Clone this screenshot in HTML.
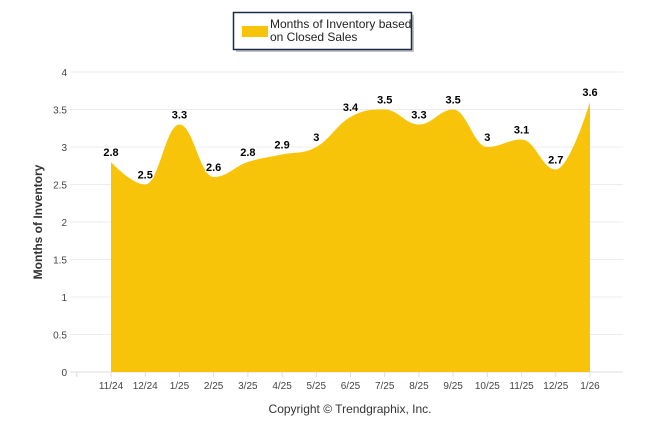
<!DOCTYPE html>
<html><head><meta charset="utf-8"><style>
body{margin:0;background:#fff;}
svg{display:block;font-family:"Liberation Sans",Arial,sans-serif;}
</style></head><body>
<svg width="646" height="434">
<g id="grid"></g>
<g id="area"></g>
<g id="xaxis"></g>
<g id="yaxis"></g>
<g id="labels"></g>
<text x="42" y="222" transform="rotate(-90 42 222)" text-anchor="middle" font-size="12" font-weight="bold" fill="#333">Months of Inventory</text>
<text x="350" y="413" text-anchor="middle" font-size="12" fill="#333">Copyright © Trendgraphix, Inc.</text>
<g>
<rect x="236" y="15" width="178" height="37" fill="#888" opacity="0.5"/>
<rect x="233.5" y="12.5" width="178" height="37" fill="#fff" stroke="#1c2a4a" stroke-width="1.5"/>
<rect x="242" y="26" width="26" height="11" fill="#f8c40a"/>
<text x="270" y="28" font-size="12" fill="#222">Months of Inventory based</text>
<text x="270" y="41" font-size="12" fill="#222">on Closed Sales</text>
</g>
</svg>
<script>
const categories=["11/24","12/24","1/25","2/25","3/25","4/25","5/25","6/25","7/25","8/25","9/25","10/25","11/25","12/25","1/26"];
const values=[2.8,2.5,3.3,2.6,2.8,2.9,3,3.4,3.5,3.3,3.5,3,3.1,2.7,3.6];
const valueLabels=["2.8","2.5","3.3","2.6","2.8","2.9","3","3.4","3.5","3.3","3.5","3","3.1","2.7","3.6"];
const yTicks=[0,0.5,1,1.5,2,2.5,3,3.5,4];
const yTickLabels=["0","0.5","1","1.5","2","2.5","3","3.5","4"];
const NS="http://www.w3.org/2000/svg";
const x0=111,dx=34.214,yb=372,yt=72,ymax=4;
const X=i=>x0+i*dx;
const Y=v=>yb-(v/ymax)*(yb-yt);
function mk(t,a,p){const e=document.createElementNS(NS,t);for(const k in a)e.setAttribute(k,a[k]);p.appendChild(e);return e;}
const grid=document.getElementById('grid'),yax=document.getElementById('yaxis'),xax=document.getElementById('xaxis');
yTicks.forEach((t,i)=>{
 const l=mk('line',{x1:70,x2:623,y1:Y(t),y2:Y(t),stroke:t===0?'#ddd':'#ececec','stroke-width':1},grid);
 
 
 const tx=mk('text',{x:67,y:Y(t)+4,'text-anchor':'end','font-size':10,fill:'#444'},yax);
 tx.textContent=yTickLabels[i];
 
 
});
categories.forEach((c,i)=>{
 mk('line',{x1:X(i),x2:X(i),y1:yb,y2:yb+5,stroke:'#ddd'},xax);
 const tx=mk('text',{x:X(i),y:yb+17,'text-anchor':'middle','font-size':10,fill:'#444'},xax);
 tx.textContent=c;
 
 
});
mk('line',{x1:X(-1),x2:X(-1),y1:yb,y2:yb+5,stroke:'#ddd'},xax);
// spline
const pts=values.map((v,i)=>[X(i),Y(v)]);
let d=`M${pts[0][0]},${yb} L${pts[0][0]},${pts[0][1]}`;
const sm=1.5;
function cp(i){
 const p=pts[i],a=pts[i-1]||p,b=pts[i+1]||p;
 if(!pts[i-1]||!pts[i+1])return [[p[0],p[1]],[p[0],p[1]]];
 let lx=(sm*p[0]+a[0])/(sm+1),ly=(sm*p[1]+a[1])/(sm+1),rx=(sm*p[0]+b[0])/(sm+1),ry=(sm*p[1]+b[1])/(sm+1);
 const cor=((ry-ly)*(rx-p[0]))/(rx-lx)+p[1]-ry;ly+=cor;ry+=cor;
 if((ly>a[1]&&ly>p[1])||(ly<a[1]&&ly<p[1])){ly=Math.max(a[1],p[1])===ly?Math.max(a[1],p[1]):Math.min(a[1],p[1]);ry=2*p[1]-ly;}
 if((ry>b[1]&&ry>p[1])||(ry<b[1]&&ry<p[1])){ry=(ry>p[1])?Math.max(b[1],p[1]):Math.min(b[1],p[1]);ly=2*p[1]-ry;}
 return [[lx,ly],[rx,ry]];
}
const C=pts.map((p,i)=>cp(i));
for(let i=1;i<pts.length;i++){d+=` C${C[i-1][1][0]},${C[i-1][1][1]} ${C[i][0][0]},${C[i][0][1]} ${pts[i][0]},${pts[i][1]}`;}
d+=` L${pts[pts.length-1][0]},${yb} Z`;
const ar=mk('path',{d:d,fill:'#f8c40a'},document.getElementById('area'));


const lg=document.getElementById('labels');
values.forEach((v,i)=>{
 const t=mk('text',{x:X(i),y:Y(v)-6,'text-anchor':'middle','font-size':11,'font-weight':'bold',fill:'#000',stroke:'#fff','stroke-width':2.5,'paint-order':'stroke'},lg);
 t.textContent=valueLabels[i];
 
 
});
</script>
</body></html>
